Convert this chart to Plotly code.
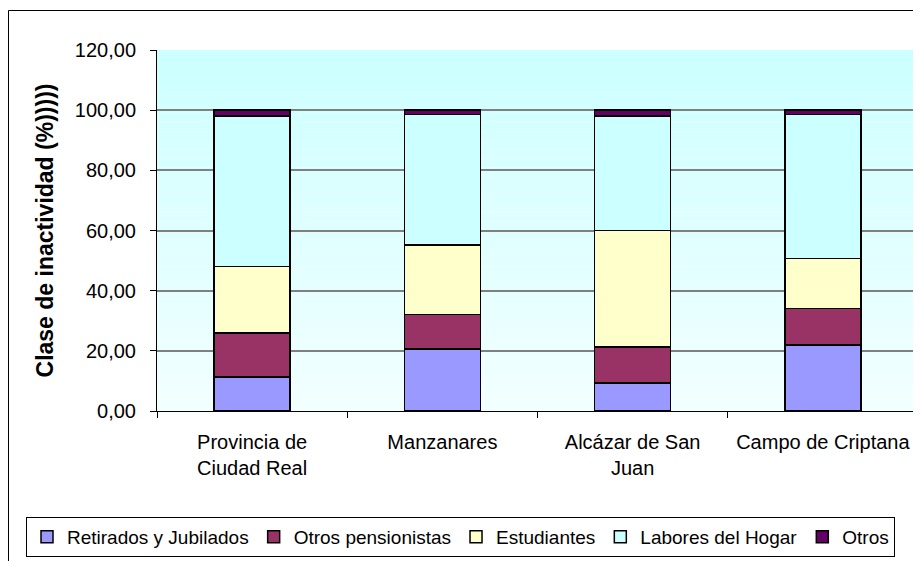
import plotly.graph_objects as go

categories = ["Provincia de<br>Ciudad Real", "Manzanares", "Alcázar de San<br>Juan", "Campo de Criptana"]
retirados = [11.33, 20.67, 9.33, 22.0]
otros_pensionistas = [14.67, 11.33, 12.0, 12.0]
estudiantes = [22.0, 23.2, 38.67, 16.67]
labores_hogar = [50.0, 43.37, 38.0, 47.9]
otros = [2.0, 1.43, 2.0, 1.43]

series = [
    ("Retirados y Jubilados", retirados, "#9999FF"),
    ("Otros pensionistas", otros_pensionistas, "#993366"),
    ("Estudiantes", estudiantes, "#FFFFCC"),
    ("Labores del Hogar", labores_hogar, "#CCFFFF"),
    ("Otros", otros, "#660066"),
]

fig = go.Figure()
for name, vals, col in series:
    fig.add_trace(go.Bar(
        x=categories, y=vals, name=name,
        marker=dict(color=col, line=dict(color="black", width=1.5)),
    ))

# the page body has an 8px margin, so figure coords = page coords - 8
OFF = 8
W, H = 921 - OFF, 561 - OFF
L, R, T, B = 157 - OFF, 3, 50 - OFF, 150
PW = W - L - R
PH = H - T - B


def px_to_paper_x(px):
    return (px - OFF - L) / PW


def px_to_paper_y(py):
    return (H - B - (py - OFF)) / PH


# gradient plot background (light cyan to near white)
shapes = []
N = 40
top = (0xCC, 0xFF, 0xFF)
bot = (0xF2, 0xFF, 0xFF)
for i in range(N):
    t = i / (N - 1)
    c = tuple(round(top[k] + (bot[k] - top[k]) * t) for k in range(3))
    y1 = 1 - i / N
    y0 = 1 - (i + 1) / N
    shapes.append(dict(type="rect", xref="paper", yref="paper", x0=0, x1=1.003,
                       y0=y0, y1=y1, layer="below", line=dict(width=0),
                       fillcolor="rgb(%d,%d,%d)" % c))
# outer chart frame
shapes.append(dict(type="rect", xref="paper", yref="paper",
                   x0=px_to_paper_x(8.5), x1=px_to_paper_x(935),
                   y0=px_to_paper_y(575), y1=px_to_paper_y(10.5),
                   line=dict(color="black", width=1), fillcolor="rgba(0,0,0,0)",
                   layer="above"))

fig.update_layout(
    width=W, height=H,
    margin=dict(l=L, r=R, t=T, b=B, autoexpand=False),
    paper_bgcolor="white",
    plot_bgcolor="rgba(0,0,0,0)",
    barmode="stack",
    bargap=0.6,
    separators=",.",
    font=dict(family="Liberation Sans, Arial, sans-serif", size=20, color="black"),
    shapes=shapes,
    showlegend=True,
    legend=dict(
        orientation="h", x=px_to_paper_x(26), xanchor="left",
        y=px_to_paper_y(517), yanchor="top",
        bordercolor="black", borderwidth=1, bgcolor="white",
        font=dict(size=19), traceorder="normal",
        itemwidth=30,
    ),
)
fig.update_yaxes(
    range=[0, 120], dtick=20, tickformat=".2f",
    showline=True, linecolor="black", linewidth=1,
    ticks="outside", ticklen=6, tickcolor="black", ticklabelstandoff=10,
    showgrid=True, gridcolor="#808080", gridwidth=1.5,
    zeroline=False,
    title=dict(text="<b>Clase de inactividad (%)))))</b>", standoff=14, font=dict(size=23)),
)
fig.update_xaxes(
    showline=True, linecolor="black", linewidth=1,
    ticks="outside", ticklen=6, tickcolor="black", tickson="boundaries",
    ticklabelstandoff=13,
    showgrid=False,
)

fig.write_html("out.html")
